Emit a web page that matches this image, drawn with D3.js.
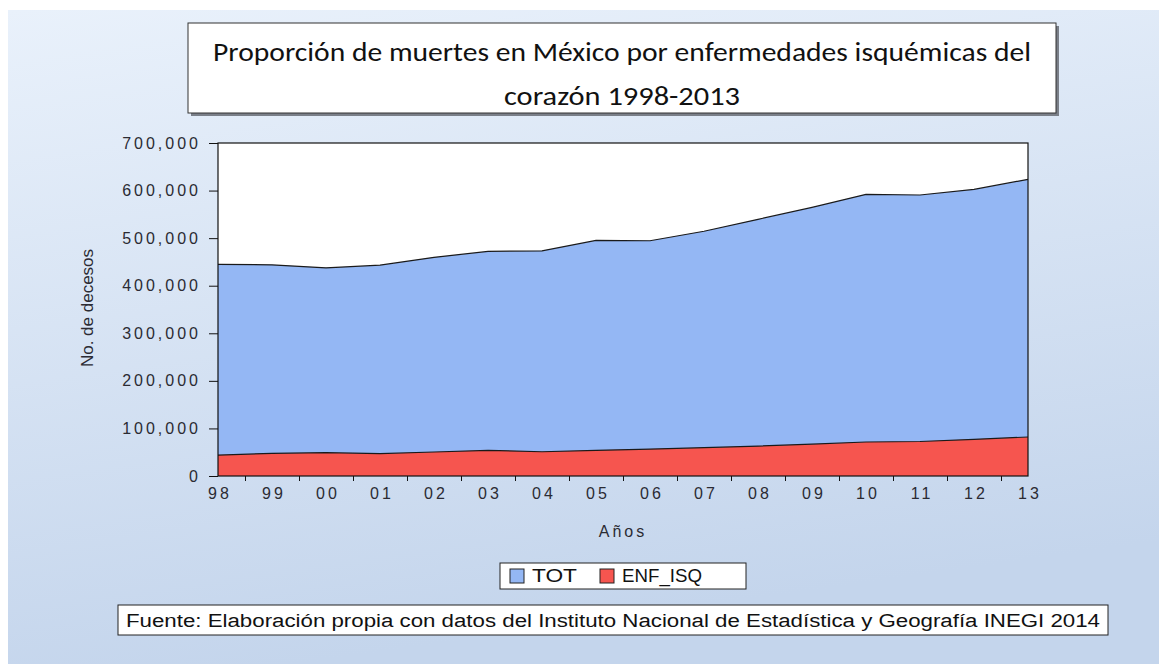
<!DOCTYPE html>
<html>
<head>
<meta charset="utf-8">
<script src="https://cdn.jsdelivr.net/npm/d3@7"></script>
<style>
  body { margin: 0; background: #fff; }
  svg { display: block; }
  .tick text { font-family: "Liberation Sans", Arial, sans-serif; font-size: 16px; fill: #2b2b33; letter-spacing: 3px; }
  .axis-y path, .axis-x path { display: none; }
  .axis-y line, .axis-x line { stroke: #111; }
</style>
</head>
<body>
<div id="chart"></div>
<script>
// datos
var years = ["98","99","00","01","02","03","04","05","06","07","08","09","10","11","12","13"];
var totValues = [444665, 443950, 437667, 443127, 459687, 472140, 473417, 495240, 494471, 514420, 539530, 564673, 592018, 590693, 602354, 623599];
var isqValues = [44000, 47500, 49000, 47000, 50500, 54000, 51000, 54000, 56500, 59500, 63000, 67000, 71500, 72500, 77000, 82000];
var yTicks = [0, 100000, 200000, 300000, 400000, 500000, 600000, 700000];
var series = ["TOT", "ENF_ISQ"];
var colors = ["#94b7f4", "#f6554f"];

var W = 1159, H = 664;
var P = {l: 218, r: 1028, t: 143, b: 476};

var svg = d3.select("#chart").append("svg")
    .attr("width", W)
    .attr("height", H);

var defs = svg.append("defs");
var grad = defs.append("linearGradient").attr("id", "bg")
    .attr("x1", 0).attr("y1", 0).attr("x2", 0.25).attr("y2", 1);
grad.append("stop").attr("offset", "0%").attr("stop-color", "#e9f1fb");
grad.append("stop").attr("offset", "100%").attr("stop-color", "#c4d5ec");

svg.append("rect")
    .attr("x", 8).attr("y", 10)
    .attr("width", W - 8).attr("height", H - 10)
    .style("fill", "url(#bg)");

// ** ------- TITULO ------- **
var title = svg.append("g").attr("class", "title");
title.append("rect")
    .attr("x", 191).attr("y", 26).attr("width", 868).attr("height", 90)
    .style("fill", "#7a7f88");
title.append("rect")
    .attr("x", 188).attr("y", 23).attr("width", 868).attr("height", 90)
    .style("fill", "#fff").style("stroke", "#333").style("stroke-width", 1);
title.append("text")
    .attr("x", 622).attr("y", 61)
    .attr("text-anchor", "middle")
    .attr("textLength", 818).attr("lengthAdjust", "spacingAndGlyphs")
    .style("font-family", "Carlito, Calibri, 'Open Sans', sans-serif")
    .style("font-size", "27px").style("fill", "#111")
    .text("Proporción de muertes en México por enfermedades isquémicas del");
title.append("text")
    .attr("x", 622).attr("y", 105)
    .attr("text-anchor", "middle")
    .attr("textLength", 236).attr("lengthAdjust", "spacingAndGlyphs")
    .style("font-family", "Carlito, Calibri, 'Open Sans', sans-serif")
    .style("font-size", "27px").style("fill", "#111")
    .text("corazón 1998-2013");

// ** ------- ESCALAS ------- **
var scaleX = d3.scalePoint().domain(years).range([P.l, P.r]);
var scaleIdx = d3.scaleLinear().domain([0, years.length - 1]).range([P.l, P.r]);
var scaleY = d3.scaleLinear().domain([0, 700000]).range([P.b, P.t]);

svg.append("rect")
    .attr("x", P.l).attr("y", P.t)
    .attr("width", P.r - P.l).attr("height", P.b - P.t)
    .style("fill", "#fff");

var areaTot = d3.area()
    .x(function(d, i) { return scaleX(years[i]); })
    .y0(scaleY(0))
    .y1(function(d) { return scaleY(d); });
var lineTop = d3.line()
    .x(function(d, i) { return scaleX(years[i]); })
    .y(function(d) { return scaleY(d); });

svg.append("path").datum(totValues)
    .attr("d", areaTot).style("fill", colors[0]);
svg.append("path").datum(isqValues)
    .attr("d", areaTot).style("fill", colors[1]);
svg.append("path").datum(totValues)
    .attr("d", lineTop).style("fill", "none").style("stroke", "#1a1a1a").style("stroke-width", 1.2);
svg.append("path").datum(isqValues)
    .attr("d", lineTop).style("fill", "none").style("stroke", "#1a1a1a").style("stroke-width", 1.2);

// marco
svg.append("rect")
    .attr("x", P.l).attr("y", P.t)
    .attr("width", P.r - P.l).attr("height", P.b - P.t)
    .style("fill", "none").style("stroke", "#111").style("stroke-width", 1.2);

// ** ------- EJES ------- **
svg.append("g")
    .attr("class", "axis-y")
    .attr("transform", "translate(" + P.l + ",0)")
    .call(d3.axisLeft(scaleY).tickValues(yTicks).tickSize(9).tickPadding(8).tickFormat(d3.format(",")));

svg.append("g")
    .attr("class", "axis-x")
    .attr("transform", "translate(0," + P.b + ")")
    .call(d3.axisBottom(scaleX).tickSize(0).tickPadding(12))
    .selectAll("text").attr("dx", 1.5);

svg.append("g")
    .attr("class", "axis-x")
    .attr("transform", "translate(0," + P.b + ")")
    .call(d3.axisBottom(scaleIdx).tickValues(d3.range(0.5, years.length - 1, 1)).tickSize(5).tickFormat(""));

svg.append("text")
    .attr("x", 623).attr("y", 537)
    .attr("text-anchor", "middle")
    .style("font-family", "'Liberation Sans', Arial, sans-serif")
    .style("font-size", "16px").style("letter-spacing", "3px").style("fill", "#2b2b33")
    .text("Años");

svg.append("text")
    .attr("transform", "translate(93,308) rotate(-90)")
    .attr("text-anchor", "middle")
    .style("font-family", "'Liberation Sans Narrow', 'Liberation Sans', Arial, sans-serif")
    .style("font-size", "17px").style("fill", "#2b2b33")
    .text("No. de decesos");

// ** ------- LEYENDA ------- **
var leg = svg.append("g").attr("class", "legend");
leg.append("rect")
    .attr("x", 500).attr("y", 563).attr("width", 246).attr("height", 26)
    .style("fill", "#fff").style("stroke", "#222");
var legX = [510, 600];
var legW = [45, 80];
series.forEach(function(s, i) {
  leg.append("rect")
      .attr("x", legX[i]).attr("y", 569).attr("width", 14).attr("height", 14)
      .style("fill", colors[i]).style("stroke", "#222");
  leg.append("text")
      .attr("x", legX[i] + 22).attr("y", 582)
      .attr("textLength", legW[i]).attr("lengthAdjust", "spacingAndGlyphs")
      .style("font-family", "'Liberation Sans Narrow', 'Liberation Sans', Arial, sans-serif")
      .style("font-size", "18px").style("fill", "#111")
      .text(s);
});

// ** ------- FUENTE ------- **
svg.append("rect")
    .attr("x", 118).attr("y", 605).attr("width", 990).attr("height", 30)
    .style("fill", "#fff").style("stroke", "#222");
svg.append("text")
    .attr("x", 126).attr("y", 627)
    .attr("textLength", 974).attr("lengthAdjust", "spacingAndGlyphs")
    .style("font-family", "'Liberation Sans Narrow', 'Liberation Sans', Arial, sans-serif")
    .style("font-size", "18px").style("fill", "#111")
    .text("Fuente: Elaboración propia con datos del Instituto Nacional de Estadística y Geografía INEGI 2014");
</script>
</body>
</html>
